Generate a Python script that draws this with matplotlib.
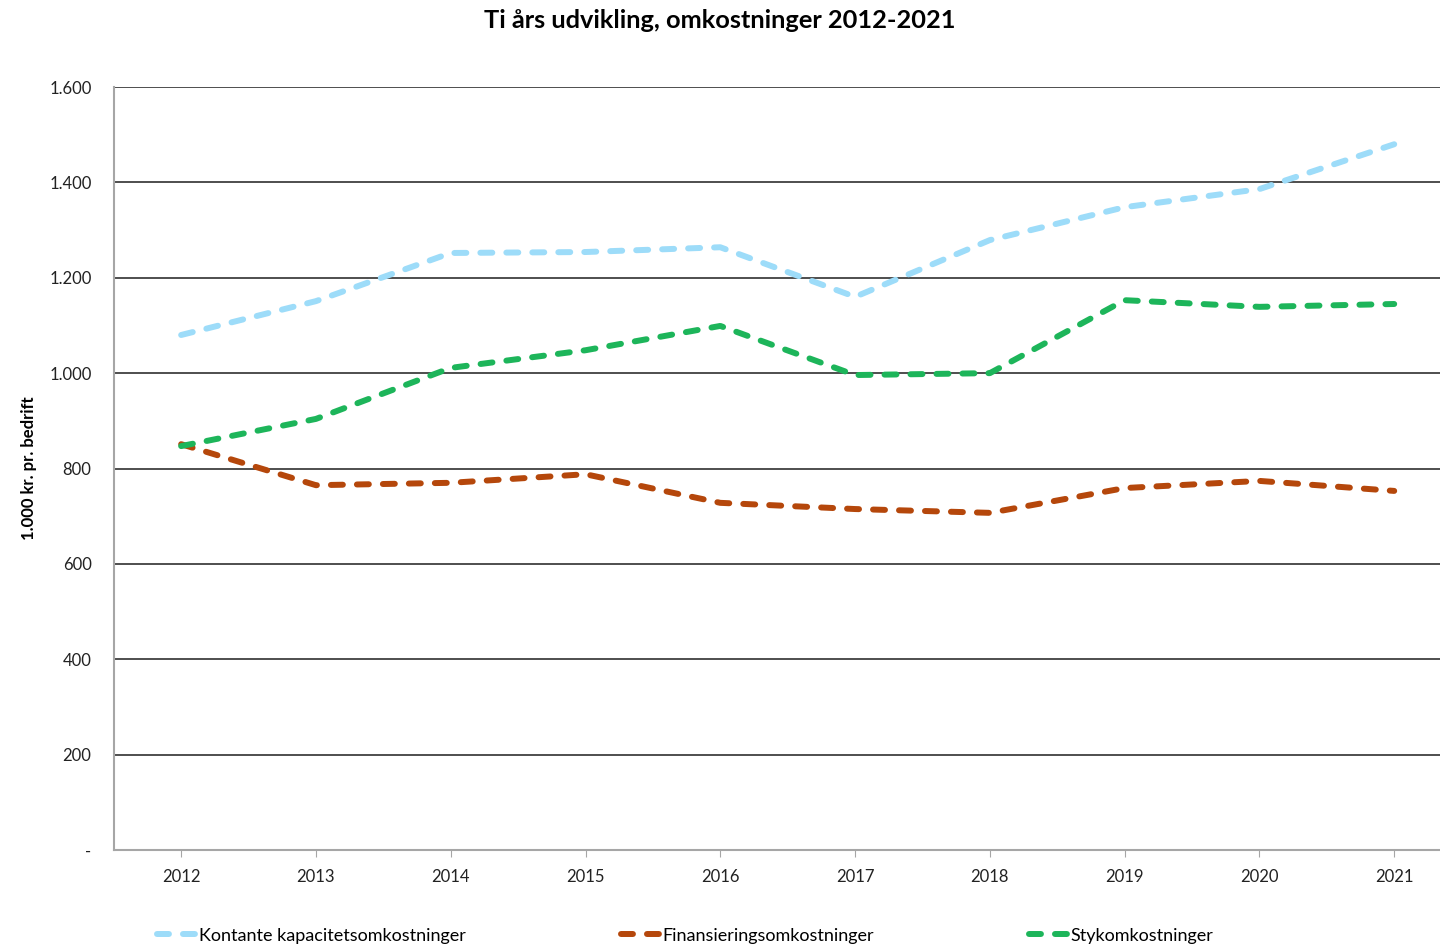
import matplotlib.pyplot as plt
from matplotlib.ticker import FuncFormatter

years = [2012, 2013, 2014, 2015, 2016, 2017, 2018, 2019, 2020, 2021]
kontante = [1080, 1151, 1252, 1254, 1264, 1160, 1279, 1348, 1386, 1480]
finansiering = [851, 765, 770, 788, 728, 715, 707, 759, 774, 753]
styk = [847, 904, 1011, 1048, 1099, 996, 1000, 1153, 1139, 1145]
labels = ["Kontante kapacitetsomkostninger", "Finansieringsomkostninger", "Stykomkostninger"]
colors = ["#9ddcf9", "#b5470b", "#1db55a"]

plt.rcParams['font.family'] = ['Lato', 'DejaVu Sans']

fig = plt.figure(figsize=(14.4, 9.46), dpi=100)
ax = fig.add_axes([0.079, 0.1015, 0.936, 0.8065])

for vals, lab, col in zip([kontante, finansiering, styk], labels, colors):
    ax.plot(years, vals, color=col, lw=4.3, ls=(0, (2.0, 2.35)),
            dash_capstyle='round', solid_capstyle='round', label=lab, zorder=3)

ax.set_xlim(2011.5, 2021.5)
ax.set_ylim(0, 1600)
ax.set_xticks(years)
ax.set_yticks(range(0, 1601, 200))
ax.yaxis.set_major_formatter(FuncFormatter(
    lambda v, p: "-" if v == 0 else f"{int(v):,}".replace(",", ".")))
ax.grid(axis='y', color='#404040', lw=1.3, zorder=1)
for s in ['top', 'right']:
    ax.spines[s].set_visible(False)
for s in ['left', 'bottom']:
    ax.spines[s].set_color('#a6a6a6')
    ax.spines[s].set_linewidth(1.5)
ax.tick_params(axis='y', length=0, pad=16, labelsize=12, colors='#222222')
ax.tick_params(axis='x', length=5, color='#a6a6a6', pad=9, labelsize=12, labelcolor='#222222')

ax.set_ylabel("1.000 kr. pr. bedrift", fontsize=12, fontweight='bold', labelpad=9)
fig.suptitle("Ti års udvikling, omkostninger 2012-2021", fontsize=18.3, fontweight='bold', y=0.99)

fig.legend(loc='lower left', bbox_to_anchor=(0.104, -0.005), ncol=3, frameon=False,
           fontsize=13, handlelength=2.2, handletextpad=0.1, columnspacing=8.6,
           borderaxespad=0)

fig.savefig("out.png", dpi=100)
